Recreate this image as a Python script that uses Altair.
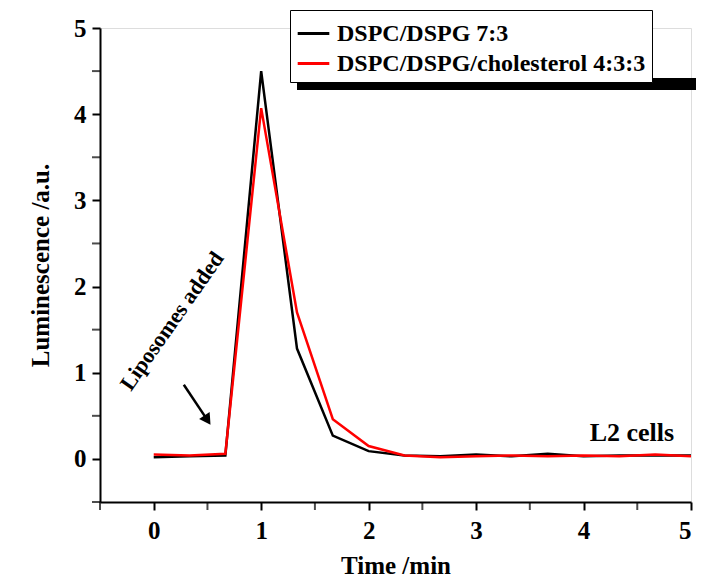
import altair as alt
import pandas as pd

times = [0, 1/3, 2/3, 1, 4/3, 5/3, 2, 7/3, 8/3, 3, 10/3, 11/3, 4, 13/3, 14/3, 5]
black = [0.02, 0.03, 0.04, 4.5, 1.28, 0.27, 0.09, 0.04, 0.03, 0.05, 0.03, 0.06, 0.03, 0.04, 0.04, 0.04]
red = [0.05, 0.04, 0.06, 4.07, 1.7, 0.46, 0.15, 0.04, 0.02, 0.03, 0.04, 0.03, 0.04, 0.03, 0.05, 0.03]
names = ["DSPC/DSPG 7:3", "DSPC/DSPG/cholesterol 4:3:3"]
colors = ["#000000", "#ff0000"]

rows = []
for t, b, r in zip(times, black, red):
    rows.append({"t": t, "v": b, "s": names[0]})
    rows.append({"t": t, "v": r, "s": names[1]})
df = pd.DataFrame(rows)

F = "Liberation Serif"
H = 474
xs = alt.Scale(domain=[-0.5, 5], nice=False, zero=False)
ys = alt.Scale(domain=[-0.5, 5], nice=False, zero=False)

lines = alt.Chart(df).mark_line(strokeWidth=2.5).encode(
    x=alt.X("t:Q", scale=xs, title="Time /min",
            axis=alt.Axis(values=[0, 1, 2, 3, 4, 5], format="d", tickSize=8, tickWidth=2,
                          domainWidth=2, domainColor="black", tickColor="black", grid=False,
                          labelFont=F, labelFontSize=25, labelFontWeight="bold", labelColor="black",
                          titleFont=F, titleFontSize=25, titleFontWeight="bold", titleColor="black",
                          labelPadding=8, titlePadding=10)),
    y=alt.Y("v:Q", scale=ys, title="Luminescence /a.u.",
            axis=alt.Axis(values=[0, 1, 2, 3, 4, 5], format="d", tickSize=8, tickWidth=2,
                          domainWidth=2, domainColor="black", tickColor="black", grid=False,
                          labelFont=F, labelFontSize=25, labelFontWeight="bold", labelColor="black",
                          titleFont=F, titleFontSize=25, titleFontWeight="bold", titleColor="black",
                          labelPadding=6, titlePadding=20)),
    color=alt.Color("s:N", scale=alt.Scale(domain=names, range=colors),
                    legend=alt.Legend(title=None, orient="none", legendX=190, legendY=-18,
                                      symbolType="stroke", symbolStrokeWidth=3, symbolSize=1000,
                                      labelFont=F, labelFontSize=24, labelFontWeight="bold",
                                      labelColor="black", strokeColor="black", fillColor="white",
                                      padding=6, rowPadding=0, labelLimit=600, labelOffset=6)),
)

minor = pd.DataFrame({"m": [-0.5, 0.5, 1.5, 2.5, 3.5, 4.5]})
minx = alt.Chart(minor).mark_tick(color="black", thickness=2, size=8).encode(
    x=alt.X("m:Q", scale=xs), y=alt.value(H + 4))
miny = alt.Chart(minor).mark_tick(color="black", thickness=2, size=8, orient="horizontal").encode(
    y=alt.Y("m:Q", scale=ys), x=alt.value(-4))

arrow_df = pd.DataFrame({"x": [0.28, 0.5], "y": [0.86, 0.45]})
arrow = alt.Chart(arrow_df).mark_line(color="black", strokeWidth=2.5).encode(x=alt.X("x:Q", scale=xs), y=alt.Y("y:Q", scale=ys))
head = alt.Chart(pd.DataFrame({"x": [0.5], "y": [0.45]})).mark_point(
    shape="triangle-down", filled=True, color="black", size=160, angle=326, opacity=1).encode(
    x=alt.X("x:Q", scale=xs), y=alt.Y("y:Q", scale=ys))

txt1 = alt.Chart(pd.DataFrame({"x": [0.17], "y": [1.6], "t": ["Liposomes added"]})).mark_text(
    font=F, fontSize=22, fontWeight="bold", angle=305, color="black").encode(
    x=alt.X("x:Q", scale=xs), y=alt.Y("y:Q", scale=ys), text="t:N")
txt2 = alt.Chart(pd.DataFrame({"x": [4.45], "y": [0.3], "t": ["L2 cells"]})).mark_text(
    font=F, fontSize=26, fontWeight="bold", color="black").encode(
    x=alt.X("x:Q", scale=xs), y=alt.Y("y:Q", scale=ys), text="t:N")

shadow = alt.Chart(pd.DataFrame({"a": [0]})).mark_rect(color="black").encode(
    x=alt.value(197), x2=alt.value(610), y=alt.value(50), y2=alt.value(62))

chart = alt.layer(shadow, lines, minx, miny, arrow, head, txt1, txt2).properties(
    width=591, height=H,
    autosize=alt.AutoSizeParams(type="none"),
    padding={"left": 92, "top": 20, "right": 5, "bottom": 75},
).configure_view(stroke="black", strokeWidth=2).configure(background="white")

chart.save("out.html", embed_options={"renderer": "svg", "actions": False})
